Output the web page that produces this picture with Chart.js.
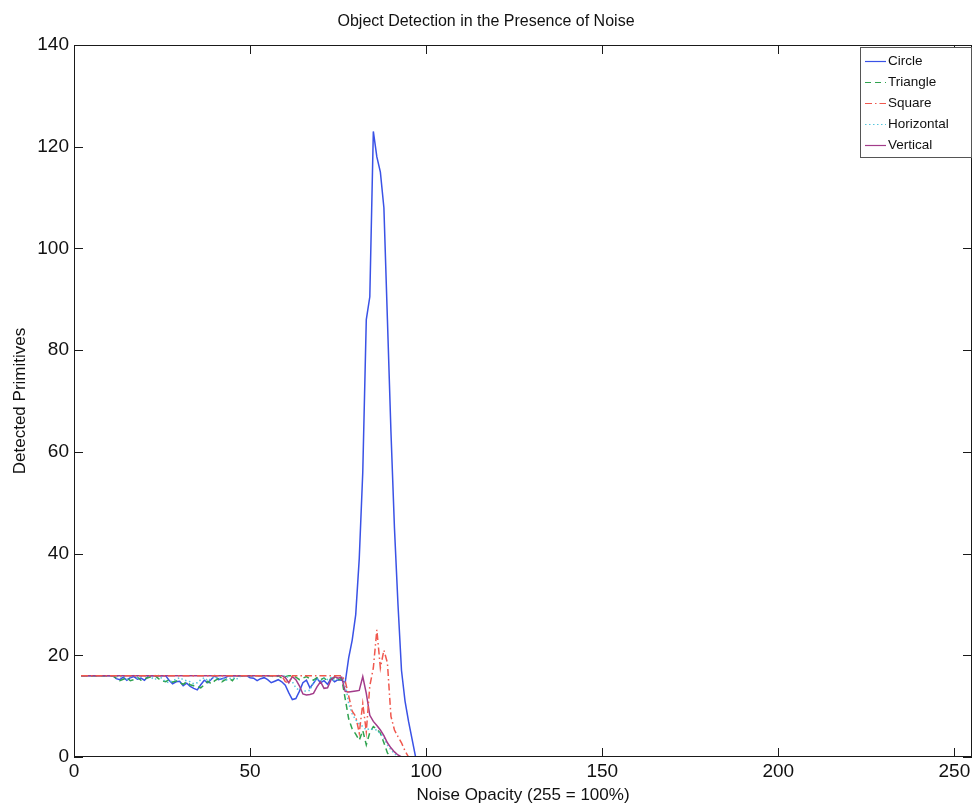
<!DOCTYPE html>
<html>
<head>
<meta charset="utf-8">
<title>Object Detection in the Presence of Noise</title>
<script src="https://cdn.jsdelivr.net/npm/chart.js@4.4.0/dist/chart.umd.min.js"></script>
<style>
    html, body { margin: 0; padding: 0; background: #fff; }
    #wrap { width: 976px; height: 806px; }
</style>
</head>
<body>
<div id="wrap"><canvas id="noiseChart" width="976" height="806"></canvas></div>
<script>
// Noise opacity samples (x axis)
const opacity = [
    2, 3, 4, 5, 6, 7, 8, 9, 10, 11,
    12, 13, 14, 15, 16, 17, 18, 19, 20, 21,
    22, 23, 24, 25, 26, 27, 28, 29, 30, 31,
    32, 33, 34, 35, 36, 37, 38, 39, 40, 41,
    42, 43, 44, 45, 46, 47, 48, 49, 50, 51,
    52, 53, 54, 55, 56, 57, 58, 59, 60, 61,
    62, 63, 64, 65, 66, 67, 68, 69, 70, 71,
    72, 73, 74, 75, 76, 77, 78, 79, 80, 81,
    82, 83, 84, 85, 86, 87, 88, 89, 90, 91,
    92, 93, 94, 95, 96, 97, 98, 99, 100
];

const circle = [
    16, 16, 16, 16, 16, 16, 16, 16, 16, 16,
    15.4, 15.2, 15.7, 15.1, 15.6, 15.8, 15.3, 15.5, 15.1, 15.8,
    16, 16, 16, 16, 16, 15.1, 14.4, 14.8, 14.9, 14.0,
    14.5, 13.9, 13.5, 13.2, 14.2, 15.1, 14.6, 15.3, 16, 15.2,
    15.4, 15.6, 16, 16, 16, 16, 16, 16, 15.6, 15.5,
    15.0, 15.4, 15.6, 15.2, 14.6, 14.9, 15.2, 14.8, 14.1, 12.6,
    11.3, 11.5, 12.9, 14.6, 15.1, 13.6, 14.5, 15.5, 14.6, 15.0,
    14.3, 15.5, 14.8, 15.2, 15.1, 14.6, 19.5, 23, 28, 39,
    56, 86, 90.5, 123, 118, 115, 108, 86, 64, 45,
    30, 17, 11, 7, 3.5, 0, null, null, null
];

const triangle = [
    16, 16, 16, 16, 16, 16, 16, 16, 16, 16,
    15.5, 15.0, 15.3, 15.6, 15.0, 15.2, 15.7, 15.1, 15.4, 15.6,
    15.8, 16, 15.4, 15.0, 14.8, 15.2, 14.7, 15.0, 14.6, 14.3,
    14.8, 14.2, 14.0, 13.8, 13.6, 14.2, 14.9, 14.4, 15.0, 15.4,
    14.8, 15.2, 15.5, 15.0, 16, 16, 16, 16, 16, 16,
    16, 16, 16, 16, 16, 15.6, 16, 15.5, 15.8, 16,
    16, 15.7, 15.2, 15.5, 15.8, 15.4, 15.1, 15.6, 15.2, 15.5,
    15.0, 15.4, 15.6, 15.1, 15.5, 11.5, 7.5, 5.5, 4.5, 3.3,
    5.2, 2.4, 4.8, 6.0, 5.5, 4.7, 2.8, 0.8, 0, null,
    null, null, null, null, null, null, null, null, null
];

const square = [
    16, 16, 16, 16, 16, 16, 16, 16, 16, 16,
    16, 16, 16, 16, 16, 16, 16, 16, 16, 16,
    16, 16, 16, 16, 16, 16, 16, 16, 16, 16,
    16, 16, 16, 16, 16, 16, 16, 16, 16, 16,
    16, 16, 16, 16, 16, 16, 16, 16, 16, 16,
    16, 16, 16, 16, 16, 16, 16, 16, 14.8, 14.6,
    16, 16, 16, 16, 16, 16, 16, 16, 16, 16,
    16, 16, 16, 16, 16, 15, 12, 9, 8, 4.7,
    10.5, 5, 14, 17.5, 25, 17.5, 21, 18.5, 8, 5.3,
    4, 2.8, 1.2, 0, null, null, null, null, null
];

const horizontal = [
    16, 16, 16, 16, 16, 16, 16, 16, 16, 16,
    16, 15.6, 16, 15.3, 15.8, 16, 15.5, 15.8, 16, 16,
    15.6, 15.2, 16, 15.4, 14.8, 14.6, 15.0, 15.3, 15.6, 15.2,
    15.0, 14.8, 14.4, 14.6, 15.2, 15.6, 15.0, 15.4, 15.8, 15.3,
    15.6, 15.0, 15.4, 15.6, 15.2, 15.8, 16, 16, 16, 16,
    16, 16, 16, 16, 16, 16, 16, 15.8, 16, 15.6,
    14.8, 13.6, 13.1, 13.0, 13.0, 13.1, 14.8, 15.4, 14.9, 15.6,
    15.2, 15.6, 15.0, 15.5, 15.8, 14.5, 10.5, 8.5, 7.3, 6.5,
    6.0, 5.3, 5.6, 5.4, 5.3, 4.6, 3.8, 2.4, 1.4, 0.7,
    0, null, null, null, null, null, null, null, null
];

const vertical = [
    16, 16, 16, 16, 16, 16, 16, 16, 16, 16,
    16, 16, 16, 16, 16, 16, 16, 16, 16, 16,
    16, 16, 16, 16, 16, 16, 16, 16, 16, 16,
    16, 16, 16, 16, 16, 16, 16, 16, 16, 16,
    16, 16, 16, 16, 16, 16, 16, 16, 16, 16,
    16, 16, 16, 16, 16, 16, 16, 16, 15.6, 14.6,
    15.8, 15.2, 14.0, 12.4, 12.2, 12.3, 12.5, 13.8, 14.8, 13.5,
    13.6, 15.2, 15.8, 15.5, 15.7, 12.9, 12.8, 12.9, 13.0, 13.1,
    15.8, 12.5, 8.2, 7.0, 6.2, 5.3, 4.2, 2.8, 1.8, 1.0,
    0.4, 0, null, null, null, null, null, null, null
];

const xTicks = [0, 50, 100, 150, 200, 250];
const yTicks = [0, 20, 40, 60, 80, 100, 120, 140];

const FONT = "'Liberation Sans', Arial, Helvetica, sans-serif";

function points(values) {
    return opacity.map((x, i) => ({ x: x, y: values[i] }));
}

// lower order is drawn on top (the pink square line sits on the flat top run)
function series(label, values, color, dash, order) {
    return {
        label: label,
        data: points(values),
        borderColor: color,
        backgroundColor: color,
        borderWidth: 1.5,
        borderDash: dash,
        pointRadius: 0,
        tension: 0,
        fill: false,
        spanGaps: false,
        order: order
    };
}

// Box round the plot with inward ticks on all four sides
const frame = {
    id: 'frame',
    afterDatasetsDraw(chart) {
        const { ctx, chartArea: a, scales: { x, y } } = chart;
        ctx.save();
        ctx.strokeStyle = '#1a1a1a';
        ctx.lineWidth = 1;
        ctx.setLineDash([]);
        ctx.strokeRect(a.left + 0.5, a.top + 0.5, a.width - 1, a.height - 1);
        ctx.beginPath();
        xTicks.forEach(v => {
            const px = Math.round(x.getPixelForValue(v)) + 0.5;
            ctx.moveTo(px, a.bottom); ctx.lineTo(px, a.bottom - 9);
            ctx.moveTo(px, a.top); ctx.lineTo(px, a.top + 9);
        });
        yTicks.forEach(v => {
            const py = Math.round(y.getPixelForValue(v)) + 0.5;
            ctx.moveTo(a.left, py); ctx.lineTo(a.left + 9, py);
            ctx.moveTo(a.right, py); ctx.lineTo(a.right - 9, py);
        });
        ctx.stroke();
        ctx.restore();
    }
};

// MATLAB style legend box in the upper right corner
const boxLegend = {
    id: 'boxLegend',
    afterDraw(chart) {
        const { ctx, chartArea: a } = chart;
        const w = 111, h = 110;
        const left = a.right - w - 1, top = a.top + 2;
        ctx.save();
        ctx.fillStyle = '#fff';
        ctx.fillRect(left, top, w, h);
        ctx.strokeStyle = '#555';
        ctx.lineWidth = 1;
        ctx.setLineDash([]);
        ctx.strokeRect(left + 0.5, top + 0.5, w, h);
        ctx.font = '13.5px ' + FONT;
        ctx.textBaseline = 'middle';
        chart.data.datasets.forEach((ds, i) => {
            const cy = top + 14 + i * 21;
            ctx.strokeStyle = ds.borderColor;
            ctx.lineWidth = 1.2;
            ctx.setLineDash(ds.borderDash || []);
            ctx.beginPath();
            ctx.moveTo(left + 5, cy + 0.5);
            ctx.lineTo(left + 26, cy + 0.5);
            ctx.stroke();
            ctx.fillStyle = '#111';
            ctx.fillText(ds.label, left + 28, cy);
        });
        ctx.restore();
    }
};

new Chart(document.getElementById('noiseChart'), {
    type: 'line',
    data: {
        datasets: [
            series('Circle', circle, '#3a52e6', [], 5),
            series('Triangle', triangle, '#2fa34f', [6, 4], 4),
            series('Square', square, '#f0584e', [7, 3, 1.5, 3], 1),
            series('Horizontal', horizontal, '#56c6dc', [1.5, 2.5], 3),
            series('Vertical', vertical, '#a33c8a', [], 2)
        ]
    },
    options: {
        responsive: false,
        animation: false,
        layout: { padding: { left: 0, right: 4, top: 0, bottom: 0 } },
        plugins: {
            legend: { display: false },
            tooltip: { enabled: false },
            title: {
                display: true,
                text: 'Object Detection in the Presence of Noise',
                color: '#111',
                font: { family: FONT, size: 16, weight: 'normal' },
                padding: { top: 12, bottom: 13.8 }
            }
        },
        scales: {
            x: {
                type: 'linear',
                min: 0,
                max: 255,
                grid: { display: false, drawTicks: false, tickLength: 0 },
                border: { display: false },
                afterBuildTicks: s => { s.ticks = xTicks.map(v => ({ value: v })); },
                afterFit: s => { s.height = 49; },
                ticks: {
                    color: '#111',
                    padding: 3,
                    maxRotation: 0,
                    font: { family: FONT, size: 19 }
                },
                title: {
                    display: true,
                    text: 'Noise Opacity (255 = 100%)',
                    color: '#111',
                    font: { family: FONT, size: 17 },
                    padding: { top: 0, bottom: 0 }
                }
            },
            y: {
                type: 'linear',
                min: 0,
                max: 140,
                grid: { display: false, drawTicks: false, tickLength: 0 },
                border: { display: false },
                afterBuildTicks: s => { s.ticks = yTicks.map(v => ({ value: v })); },
                afterFit: s => { s.width = 74; },
                ticks: {
                    color: '#111',
                    padding: 5,
                    font: { family: FONT, size: 19 }
                },
                title: {
                    display: true,
                    text: 'Detected Primitives',
                    color: '#111',
                    font: { family: FONT, size: 17 },
                    padding: { top: 10, bottom: 0 }
                }
            }
        }
    },
    plugins: [frame, boxLegend]
});
</script>
</body>
</html>
